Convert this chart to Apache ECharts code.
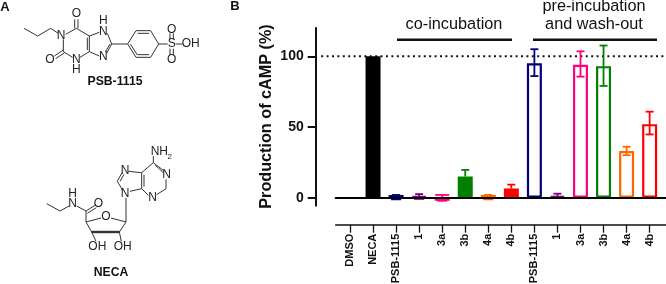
<!DOCTYPE html>
<html><head><meta charset="utf-8">
<style>html,body{margin:0;padding:0;background:#fff}#c{width:666px;height:284px}</style>
<script src="https://cdn.jsdelivr.net/npm/echarts@6/dist/echarts.min.js"></script>
</head><body><div id="c"></div>
<script>
const categories=['DMSO','NECA','PSB-1115','1','3a','3b','4a','4b','PSB-1115','1','3a','3b','4a','4b'];
const means=[null,100,1.9,1,-2.2,15,1.9,6.5,95,1,94,93,33,52];
const errHigh=[null,null,1.9,2.5,1.9,19.6,1.9,9.2,105,2.8,103.5,107.6,36,60.8];
const errLow=[null,null,-1.2,-0.9,-2.2,null,-1.2,null,86,-0.3,85.6,79,30,44.7];
const colors=['#000','#000','#00007f','#7f007f','#ff0080','#008000','#ff6600','#ff0000','#00007f','#7f007f','#ff0080','#008000','#ff6600','#ff0000'];
const hollow=[0,0,0,0,0,0,0,0,1,0,1,1,1,1];
const yTicks=[0,50,100];
const refValue=100;
const refXRange=[-1.25,13.71];
const XMIN=-0.62,XMAX=13.71;

// molecule drawings, in zoomed-crop units (3x), for panel A
const psbBonds=[[72,85,113,108],[113,108,152,85],[152,85,175,100],[190,118,190,155],[190,155,218,172],[240,172,268,155],[268,155,268,108],[268,108,229,85],[229,85,197,103],
[224,85,224,58],[234,85,234,58],[190,150,163,168],[194,158,167,176],[262,150,262,113],[268,108,298,97],[322,100,335,132],[335,132,320,160],[330,132,316,156],[298,168,268,155],
[335,132,383,132],[383,132,408,92],[408,92,452,92],[452,92,476,132],[476,132,452,172],[452,172,408,172],[408,172,383,132],[413,100,447,100],[447,164,413,164],[391,132,412,165],
[476,132,503,132],[510,118,510,100],[520,118,520,100],[510,146,510,165],[520,146,520,165],[527,132,548,132]];
const psbAtoms=[['O',229,42],['N',183,108],['O',150,178],['N',229,178],['H',229,208],['N',310,95],['H',310,62],['N',310,170],['S',515,132],['O',515,88],['O',515,178],['OH',572,132]];
const necaBonds=[[140,185,180,207],[180,207,207,192],[230,192,258,207],[258,207,258,240],[258,207,285,190],[262,214,289,197],
[258,240,303,228],[333,228,378,240],[378,240,358,270],[258,240,275,270],[275,270,288,298],[358,270,364,298],[378,240,378,168],
[425,92,425,140],[432,98,432,134],[425,92,460,62],[460,62,490,85],[466,70,490,92],[498,112,498,140],[498,140,470,158],[445,160,425,140],[385,88,425,92],[366,92,352,118],[372,97,360,118],[352,118,368,145],[390,148,425,140],[460,62,460,42]];
const necaBold=[[275,270,358,270]];
const necaAtoms=[['N',375,85],['N',500,98],['N',458,168],['N',375,155],['NH',478,30],['H',218,155],['N',218,185],['O',295,185],['O',318,225],['OH',292,315],['OH',368,315]];
const inkColor='#333';
const gfx=[];
function bonds(list,dy,w){list.forEach(b=>gfx.push({type:'line',silent:true,shape:{x1:b[0]/3,y1:b[1]/3+dy,x2:b[2]/3,y2:b[3]/3+dy},style:{stroke:inkColor,lineWidth:w}}));}
function atoms(list,dy){list.forEach(a=>gfx.push({type:'text',silent:true,style:{text:a[0],x:a[1]/3,y:a[2]/3+dy,align:'center',verticalAlign:'middle',font:'12px "Liberation Sans"',fill:'#222'}}));}
function label(t,x,y,o){gfx.push({type:'text',silent:true,rotation:o&&o.rot||0,x:x,y:y,style:{text:t,x:0,y:0,align:o&&o.align||'center',verticalAlign:'middle',font:(o&&o.font)||'bold 13px "Liberation Sans"',fill:'#111'}});}
bonds(psbBonds,0,1);atoms(psbAtoms,0);
bonds(necaBonds,142,1);bonds(necaBold,142,2.4);atoms(necaAtoms,142);
gfx.push({type:'text',silent:true,style:{text:'2',x:167.5,y:142+14.5,align:'left',verticalAlign:'middle',font:'8px "Liberation Sans"',fill:'#222'}});
label('A',5,7,{font:'bold 13px "Liberation Sans"'});
label('B',235,6,{font:'bold 13px "Liberation Sans"'});
label('PSB-1115',115,82,{font:'bold 12.2px "Liberation Sans"'});
label('NECA',111,273,{font:'bold 12.2px "Liberation Sans"'});
label('Production of cAMP (%)',267,116.5,{rot:Math.PI/2,font:'bold 16.2px "Liberation Sans"'});
label('co-incubation',454,25,{font:'16.3px "Liberation Sans"'});
label('pre-incubation',594,7,{font:'16.3px "Liberation Sans"'});
label('and wash-out',594,25,{font:'16.3px "Liberation Sans"'});
[[397,512],[533,657]].forEach(s=>gfx.push({type:'line',silent:true,shape:{x1:s[0],y1:39.7,x2:s[1],y2:39.7},style:{stroke:'#111',lineWidth:2.6}}));

const chart=echarts.init(document.getElementById('c'),null,{renderer:'canvas'});
const idx=categories.map((_,i)=>i);
chart.setOption({
 animation:false,
 grid:{left:335.7,right:0,top:28,bottom:78.3,containLabel:false,outerBoundsMode:'none'},
 xAxis:[{type:'value',min:XMIN,max:XMAX,position:'bottom',offset:19,splitLine:{show:false},
   axisLine:{show:true,onZero:false,lineStyle:{color:'#111',width:1.6}},
   axisTick:{show:true,length:8,customValues:idx,lineStyle:{color:'#111',width:1.3}},
   axisLabel:{show:true,rotate:90,margin:9,customValues:idx,hideOverlap:false,showMinLabel:true,showMaxLabel:true,
     formatter:v=>categories[Math.round(v)],color:'#111',fontSize:11,fontWeight:'bold',fontFamily:'Liberation Sans'}},
  {type:'value',min:XMIN,max:XMAX,position:'bottom',z:5,splitLine:{show:false},axisTick:{show:false},axisLabel:{show:false},
   axisLine:{show:true,onZero:true,lineStyle:{color:'#000',width:2}}}],
 yAxis:{type:'value',min:-5.7,max:120,offset:20,splitLine:{show:false},
   axisLine:{show:true,onZero:false,lineStyle:{color:'#111',width:2}},
   axisTick:{show:true,length:8,customValues:yTicks,lineStyle:{color:'#111',width:2}},
   axisLabel:{customValues:yTicks,margin:12,color:'#111',fontSize:14,fontWeight:'bold',fontFamily:'Liberation Sans'}},
 graphic:gfx,
 series:[
  {type:'custom',silent:true,clip:false,z:1,data:[[refXRange[0],refXRange[1],refValue]],
   renderItem:(p,api)=>{
    const a=api.coord([api.value(0),api.value(2)]),b=api.coord([api.value(1),api.value(2)]);
    return {type:'line',shape:{x1:a[0],y1:a[1],x2:b[0],y2:b[1]},style:{stroke:'#111',lineWidth:2,lineDash:[2,3.4]}};
   }},
  {type:'bar',barWidth:15,z:3,data:means.map((v,i)=>({value:[i,v],itemStyle:{color:hollow[i]?'#fff':colors[i],borderColor:colors[i],borderWidth:2.2}})).filter(d=>d.value[1]!==null)},
  {type:'custom',z:4,clip:false,data:idx.filter(i=>errHigh[i]!==null).map(i=>[i,errHigh[i],errLow[i]===null?means[i]:errLow[i],i]),
   renderItem:(p,api)=>{
    const i=api.value(3),top=api.coord([api.value(0),api.value(1)]),bot=api.coord([api.value(0),api.value(2)]);
    const st={stroke:colors[i],lineWidth:1.8};
    const w=categories[i]==='3a'&&means[i]<0?7:4, wl=Math.abs(means[i])<3?5:4;
    const ch=[{type:'line',shape:{x1:top[0],y1:top[1],x2:bot[0],y2:bot[1]},style:st},
      {type:'line',shape:{x1:top[0]-w,y1:top[1],x2:top[0]+w,y2:top[1]},style:st}];
    if(errLow[i]!==null)ch.push({type:'line',shape:{x1:bot[0]-wl,y1:bot[1],x2:bot[0]+wl,y2:bot[1]},style:st});
    return {type:'group',children:ch};
   }}
 ]
});
</script></body></html>
